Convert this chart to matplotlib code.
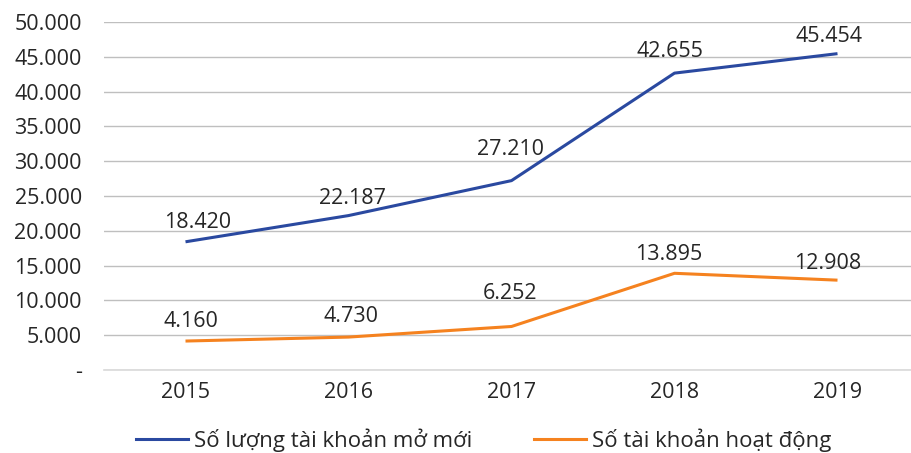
import numpy as np
import matplotlib.pyplot as plt
from matplotlib.lines import Line2D
from matplotlib.ticker import FuncFormatter

plt.rcParams['font.family'] = ['Open Sans', 'DejaVu Sans']

years = ['2015', '2016', '2017', '2018', '2019']
new_accounts = [18420, 22187, 27210, 42655, 45454]
active_accounts = [4160, 4730, 6252, 13895, 12908]
series_names = ['Số lượng tài khoản mở mới', 'Số tài khoản hoạt động']

# label nudges in pixels (dx, gap from point to baseline), as placed in the original
blue_label_dx = [12, 4, -1, -5, -9]
blue_label_dy = [14, 12, 26, 16, 12]
orange_label_dx = [5, 3, -1, -6, -10]
orange_label_dy = [14, 15, 27, 13, 11]

blue = '#2A49A0'
orange = '#F5821F'
text_col = '#262626'

fig = plt.figure(figsize=(9.11, 4.53), dpi=100)
ax = fig.add_axes([104 / 911, 1 - 370 / 453, 815 / 911, 348 / 453])

x = np.arange(len(years))
for vals, col, ldx, ldy in [(new_accounts, blue, blue_label_dx, blue_label_dy),
                            (active_accounts, orange, orange_label_dx, orange_label_dy)]:
    ax.plot(x, vals, color=col, lw=2.2, solid_joinstyle='round', solid_capstyle='butt')
    for xi, v, dx, dy in zip(x, vals, ldx, ldy):
        ax.annotate(f'{v:,}'.replace(',', '.'), (xi, v), xytext=(dx * 0.72, dy * 0.72),
                    textcoords='offset points', ha='center', va='baseline',
                    fontsize=15.5, color=text_col)

ax.set_xlim(-0.5, len(years) - 0.5)
ax.set_ylim(0, 50000)
ax.set_yticks(np.arange(0, 50001, 5000))
ax.yaxis.set_major_formatter(FuncFormatter(
    lambda v, p: '-' if v == 0 else f'{int(v):,}'.replace(',', '.')))
ax.set_xticks(x)
ax.set_xticklabels(years)
ax.grid(axis='y', color='#BFBFBF', lw=1)
ax.set_axisbelow(True)
for s in ['top', 'right', 'left']:
    ax.spines[s].set_visible(False)
ax.spines['bottom'].set_color('#D9D9D9')
ax.spines['bottom'].set_linewidth(1.2)
ax.tick_params(length=0, labelsize=15.5, labelcolor=text_col)
ax.tick_params(axis='y', pad=16)
ax.tick_params(axis='x', pad=9)

handles = [Line2D([], [], color=blue, lw=2.2), Line2D([], [], color=orange, lw=2.2)]
fig.legend(handles, series_names, loc='center', bbox_to_anchor=(0.531, 1 - 440 / 453),
           ncol=2, frameon=False, fontsize=16, handlelength=2.35, handletextpad=0.27,
           columnspacing=2.75, labelcolor=text_col)

fig.savefig('out.png', dpi=100)
